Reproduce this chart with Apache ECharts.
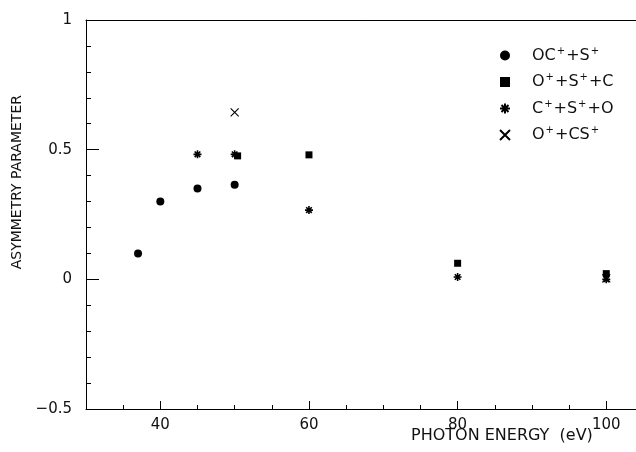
<!DOCTYPE html>
<html>
<head>
<meta charset="utf-8">
<script src="https://cdn.jsdelivr.net/npm/echarts@6/dist/echarts.min.js"></script>
<style>
  html, body { margin: 0; padding: 0; background: #fff; }
  #chart { width: 636px; height: 452px; }
</style>
</head>
<body>
<div id="chart"></div>
<script>
// photon energy (eV), asymmetry parameter
const ocS = [[37, 0.10], [40, 0.30], [45, 0.35], [50, 0.365]];
const oSC = [[50.4, 0.476], [60, 0.48], [80, 0.062], [100, 0.022]];
const cSO = [[45, 0.482], [50, 0.482], [60, 0.267], [80, 0.009], [100, 0.0]];
const oCS = [[50, 0.644], [100, 0.004]];

const xLabels = [40, 60, 80, 100];
const xMinorTicks = [35, 45, 50, 55, 65, 70, 75, 85, 90, 95];

const FONT = "'DejaVu Sans', sans-serif";
const X_MIN = 30;
const X_MAX = 104;

const legendText = {
  "OC+ + S+": "{b|OC}{s|+}{b|+S}{s|+}",
  "O+ + S+ + C": "{b|O}{s|+}{b|+S}{s|+}{b|+C}",
  "C+ + S+ + O": "{b|C}{s|+}{b|+S}{s|+}{b|+O}",
  "O+ + CS+": "{b|O}{s|+}{b|+CS}{s|+}",
};

const asterisk = "path://M0,5L10,5M5,0L5,10M1.5,1.5L8.5,8.5M8.5,1.5L1.5,8.5";
const cross = "path://M0,0L10,10M10,0L0,10";

// same scale, used only to draw one set of ticks each
const tickAxis = (values, len) => ({
  type: "value",
  min: X_MIN,
  max: X_MAX,
  position: "bottom",
  splitLine: { show: false },
  axisLine: { show: false, onZero: false },
  axisTick: { inside: true, length: len, customValues: values, lineStyle: { color: "#000" } },
  axisLabel: { show: false },
});

const chart = echarts.init(document.getElementById("chart"));

const option = {
  backgroundColor: "#fff",
  animation: false,
  grid: {
    left: 86,
    right: 0,
    top: 20,
    bottom: 43,
  },
  legend: {
    orient: "vertical",
    left: 494,
    top: 41,
    itemWidth: 10,
    itemHeight: 10,
    itemGap: 9,
    data: Object.keys(legendText),
    formatter: (name) => legendText[name],
    textStyle: {
      fontFamily: FONT,
      color: "#111",
      padding: [0, 0, 0, 17],
      rich: {
        b: { fontSize: 16, fontFamily: FONT, color: "#111" },
        s: { fontSize: 10, fontFamily: FONT, color: "#111", padding: [0, 1, 9, 1] },
      },
    },
  },
  xAxis: [
    {
      type: "value",
      min: X_MIN,
      max: X_MAX,
      splitLine: { show: false },
      axisLine: { show: true, onZero: false, lineStyle: { color: "#000", width: 1 } },
      axisTick: { show: false },
      axisLabel: {
        customValues: xLabels,
        margin: 9,
        fontSize: 15,
        fontFamily: FONT,
        color: "#111",
      },
    },
    tickAxis(xLabels, 8),
    tickAxis(xMinorTicks, 4),
    {
      // top frame line only
      type: "value",
      min: X_MIN,
      max: X_MAX,
      position: "top",
      splitLine: { show: false },
      axisLine: { show: true, onZero: false, lineStyle: { color: "#000", width: 1 } },
      axisTick: { show: false },
      axisLabel: { show: false },
    },
  ],
  yAxis: {
    type: "value",
    min: -0.5,
    max: 1,
    interval: 0.5,
    splitLine: { show: false },
    axisLine: { show: true, onZero: false, lineStyle: { color: "#000", width: 1 } },
    axisTick: { inside: true, length: 13, lineStyle: { color: "#000" } },
    minorTick: { show: true, splitNumber: 5, length: 5, lineStyle: { color: "#000" } },
    axisLabel: {
      margin: 14,
      fontSize: 15,
      fontFamily: FONT,
      color: "#111",
      formatter: (v) => (v < 0 ? "\u2212" + Math.abs(v) : String(v)),
    },
  },
  graphic: [
    {
      type: "text",
      left: 10,
      top: 95,
      rotation: Math.PI / 2,
      style: {
        text: "ASYMMETRY PARAMETER",
        font: "14px " + FONT,
        fill: "#111",
      },
    },
    {
      type: "text",
      left: 411,
      top: 428,
      style: {
        text: "PHOTON ENERGY  (eV)",
        font: "16px " + FONT,
        fill: "#111",
      },
    },
  ],
  series: [
    {
      name: "OC+ + S+",
      type: "scatter",
      data: ocS,
      symbol: "circle",
      symbolSize: 8,
      itemStyle: { color: "#000", opacity: 1 },
    },
    {
      name: "O+ + S+ + C",
      type: "scatter",
      data: oSC,
      symbol: "rect",
      symbolSize: 7,
      itemStyle: { color: "#000", opacity: 1 },
    },
    {
      name: "C+ + S+ + O",
      type: "scatter",
      data: cSO,
      symbol: asterisk,
      symbolSize: 8,
      itemStyle: { color: "#000", borderColor: "#000", borderWidth: 1.6, opacity: 1 },
    },
    {
      name: "O+ + CS+",
      type: "scatter",
      data: oCS,
      symbol: cross,
      symbolSize: 8,
      itemStyle: { color: "#000", borderColor: "#000", borderWidth: 1.1, opacity: 1 },
    },
  ],
};

chart.setOption(option);
</script>
</body>
</html>
